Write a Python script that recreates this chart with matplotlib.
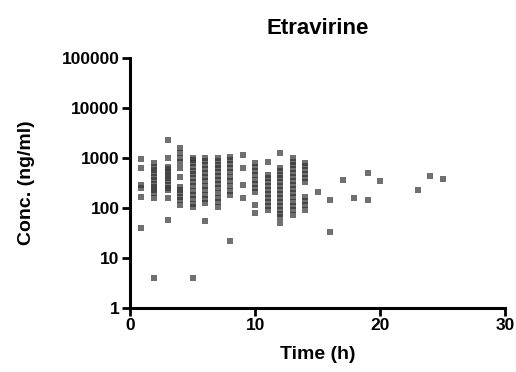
import matplotlib as mpl
mpl.use('Agg')
import matplotlib.pyplot as plt
import numpy as np

t_cols = [0.9, 1.9, 3.0, 4.0, 5.0, 6.0, 7.0, 8.0, 9.0, 10.0, 11.0, 12.0, 13.0, 14.0, 15.0]
c_cols = [
    [955, 631, 288, 251, 166, 40],
    [794, 661, 575, 500, 420, 360, 300, 260, 229, 200, 158, 4],
    [2291, 1000, 661, 600, 520, 450, 400, 340, 290, 250, 229, 158, 58],
    [1585, 1259, 1000, 830, 631, 417, 263, 230, 200, 170, 145, 115],
    [1000, 900, 780, 660, 560, 470, 400, 330, 270, 220, 180, 150, 120, 105, 4],
    [1000, 870, 720, 600, 500, 420, 350, 280, 230, 180, 150, 126, 55],
    [1000, 870, 740, 620, 520, 430, 360, 300, 250, 200, 160, 130, 105],
    [1047, 900, 760, 630, 520, 420, 340, 270, 220, 182, 22],
    [1148, 631, 288, 158],
    [794, 650, 550, 450, 370, 300, 250, 209, 115, 79],
    [832, 457, 390, 330, 280, 230, 190, 160, 130, 110, 91],
    [1259, 631, 540, 460, 390, 330, 280, 230, 190, 160, 130, 110, 90, 75, 66, 50],
    [1000, 850, 720, 600, 500, 420, 350, 290, 240, 200, 165, 135, 110, 90, 72],
    [794, 680, 580, 480, 400, 330, 166, 140, 115, 91],
    [209],
]
# sparse late samples
t_late = [16, 16, 17, 17.9, 19, 19, 20, 23, 24, 25]
c_late = [145, 33, 363, 158, 145, 500, 350, 230, 437, 380]

xticks = [0, 10, 20, 30]
yticks = [1, 10, 100, 1000, 10000, 100000]
yticklabels = ['1', '10', '100', '1000', '10000', '100000']

plt.rcParams['font.family'] = ['Liberation Sans', 'DejaVu Sans']
plt.rcParams['font.weight'] = 'bold'

fig = plt.figure(figsize=(5.16, 3.72), dpi=100)
ax = fig.add_axes([0.252, 0.172, 0.727, 0.672])

t_all = []
c_all = []
for t, cs in zip(t_cols, c_cols):
    t_all += [t] * len(cs)
    c_all += cs
t_all += t_late
c_all += c_late

ax.scatter(t_all, c_all, s=18, marker='s', color='#333333', alpha=0.7,
           linewidths=0, zorder=3, clip_on=False)

ax.set_yscale('log')
ax.set_xlim(0, 30)
ax.set_ylim(1, 100000)
ax.set_xticks(xticks)
ax.set_xticklabels([str(v) for v in xticks])
ax.set_yticks(yticks)
ax.set_yticklabels(yticklabels)
ax.yaxis.set_minor_locator(mpl.ticker.NullLocator())

for s in ['top', 'right']:
    ax.spines[s].set_visible(False)
for s in ['left', 'bottom']:
    ax.spines[s].set_linewidth(2.2)
ax.tick_params(axis='both', width=2, length=5.5, labelsize=12.5, pad=2)

ax.set_title('Etravirine', fontsize=16, fontweight='bold', pad=17)
ax.set_xlabel('Time (h)', fontsize=14, fontweight='bold', labelpad=9)
ax.set_ylabel('Conc. (ng/ml)', fontsize=14, fontweight='bold', labelpad=19)

fig.savefig('out.png', dpi=100)
plt.close()
